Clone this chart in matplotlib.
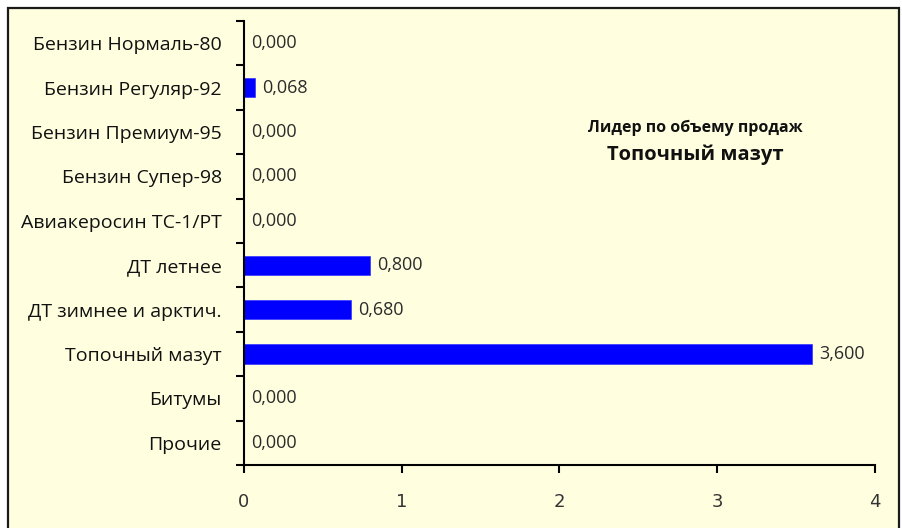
import matplotlib
matplotlib.use('Agg')
import matplotlib.pyplot as plt
import numpy as np
from matplotlib.patches import Rectangle

plt.rcParams['font.family'] = ['Open Sans', 'DejaVu Sans']

categories = ['Бензин Нормаль-80', 'Бензин Регуляр-92', 'Бензин Премиум-95',
              'Бензин Супер-98', 'Авиакеросин ТС-1/РТ', 'ДТ летнее',
              'ДТ зимнее и арктич.', 'Топочный мазут', 'Битумы', 'Прочие']
values = [0.000, 0.068, 0.000, 0.000, 0.000, 0.800, 0.680, 3.600, 0.000, 0.000]
x_ticks = [0, 1, 2, 3, 4]
leader_title = 'Лидер по объему продаж'
leader_name = 'Топочный мазут'

bg = '#FFFFE0'
fig = plt.figure(figsize=(9.03, 5.28), dpi=100, facecolor='white')
# chart area frame (Excel style)
fig.patches.append(Rectangle((8 / 903, -0.05), 891 / 903, 1 - 8 / 528 + 0.05,
                             transform=fig.transFigure, facecolor=bg,
                             edgecolor='#1a1a1a', linewidth=1.6, zorder=-10))

ax = fig.add_axes([244 / 903, 1 - 465 / 528, (875 - 244) / 903, (465 - 21) / 528])
ax.set_facecolor('none')
ax.set_zorder(5)

y = np.arange(len(categories))
ax.barh(y, values, height=0.43, color='#0000FF', edgecolor='#3333ff', linewidth=0.5)

for yi, v in zip(y, values):
    ax.annotate(f'{v:.3f}'.replace('.', ','), xy=(v, yi), xytext=(5, 0),
                textcoords='offset points', va='center', ha='left',
                fontsize=13, color='#2b2b2b')

ax.set_xlim(0, 4)
ax.set_ylim(len(categories) - 0.5, -0.5)

ax.set_yticks(y)
ax.set_yticklabels(categories, fontsize=14, color='#111111')
ax.set_yticks(np.arange(-0.5, len(categories), 1), minor=True)
ax.tick_params(axis='y', which='major', length=0, pad=16)
ax.tick_params(axis='y', which='minor', length=6, width=1.5, direction='out', color='black')

ax.set_xticks(x_ticks)
ax.set_xticklabels([str(t) for t in x_ticks], fontsize=13, color='#333333',
                   family=['Liberation Sans Narrow', 'DejaVu Sans Condensed', 'DejaVu Sans'])
ax.tick_params(axis='x', which='major', length=6, width=1.5, direction='out', pad=14, color='black')

for s in ['top', 'right']:
    ax.spines[s].set_visible(False)
for s in ['left', 'bottom']:
    ax.spines[s].set_linewidth(1.5)
    ax.spines[s].set_color('black')

fig.text(695 / 903, 1 - 128 / 528, leader_title, ha='center', va='center',
         fontsize=11.5, fontweight='bold', color='#111111', zorder=6)
fig.text(695 / 903, 1 - 155 / 528, leader_name, ha='center', va='center',
         fontsize=14.5, fontweight='bold', color='#111111', zorder=6)

fig.savefig('out.png', dpi=100, facecolor='white')
